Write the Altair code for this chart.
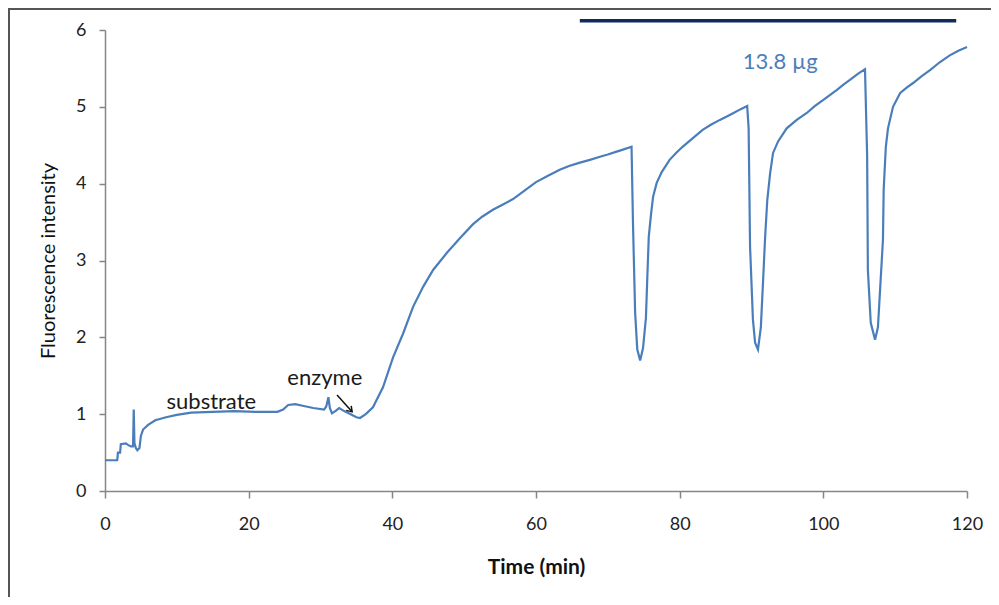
import altair as alt
import pandas as pd

# trace
time_min = [0, 1.7, 1.8, 2.1, 2.2, 2.9, 3.2, 3.6, 3.9, 4.0, 4.1, 4.3, 4.5, 4.8, 5.0, 5.3,
            6.0, 7.0, 8.5, 10.0, 12.0, 15.0, 18.0, 21.0, 24.0, 24.8, 25.5, 26.5, 27.5,
            29.0, 30.5, 30.8, 31.1, 31.3, 31.6, 32.2, 32.6, 33.3, 34.2, 35.0, 35.5, 36.3,
            37.3, 38.7, 40.1, 41.5, 42.9, 44.3, 45.7, 47.6, 49.4, 51.2, 52.5, 54.0, 55.4,
            56.8, 58.4, 60.0, 61.6, 63.3, 64.6, 66.0, 67.5, 68.9, 70.0, 71.0, 72.0, 73.3,
            73.5, 73.8, 74.1, 74.5, 74.9, 75.3, 75.5, 75.7, 76.0, 76.3, 76.8, 77.5, 78.6,
            79.5, 80.4, 81.8, 83.2, 84.4, 85.6, 86.5, 87.5, 88.5, 89.4, 89.6, 89.8, 90.2,
            90.5, 90.9, 91.3, 91.6, 91.9, 92.2, 92.6, 93.0, 93.7, 94.9, 96.3, 97.7, 98.8,
            100.0, 101.0, 101.9, 102.8, 103.7, 104.8, 105.8, 106.1, 106.2, 106.6, 107.2,
            107.6, 107.9, 108.3, 108.4, 108.7, 109.0, 109.7, 110.7, 111.6, 112.5, 113.7,
            114.9, 116.2, 117.6, 118.8, 120.0]
intensity = [0.40, 0.40, 0.50, 0.50, 0.61, 0.62, 0.60, 0.58, 0.58, 1.06, 0.62, 0.56, 0.53,
             0.56, 0.72, 0.80, 0.86, 0.92, 0.96, 0.99, 1.02, 1.03, 1.04, 1.03, 1.03, 1.06,
             1.12, 1.13, 1.11, 1.08, 1.06, 1.10, 1.22, 1.08, 1.01, 1.05, 1.08, 1.04, 1.00,
             0.96, 0.95, 1.00, 1.09, 1.35, 1.74, 2.05, 2.40, 2.66, 2.88, 3.10, 3.29, 3.47,
             3.57, 3.66, 3.73, 3.80, 3.91, 4.02, 4.10, 4.18, 4.23, 4.27, 4.31, 4.35, 4.38,
             4.41, 4.44, 4.48, 3.49, 2.32, 1.84, 1.70, 1.86, 2.25, 2.79, 3.31, 3.59, 3.83,
             4.01, 4.15, 4.31, 4.40, 4.48, 4.59, 4.70, 4.77, 4.83, 4.87, 4.92, 4.97, 5.01,
             4.72, 3.18, 2.23, 1.93, 1.84, 2.13, 2.71, 3.31, 3.79, 4.14, 4.40, 4.55, 4.72,
             4.83, 4.92, 5.01, 5.09, 5.16, 5.22, 5.29, 5.35, 5.43, 5.49, 4.35, 2.88, 2.19,
             1.97, 2.13, 2.62, 3.27, 3.92, 4.48, 4.72, 5.00, 5.18, 5.25, 5.31, 5.40, 5.48,
             5.58, 5.67, 5.73, 5.78]

x_ticks = [0, 20, 40, 60, 80, 100, 120]
y_ticks = [0, 1, 2, 3, 4, 5, 6]

# annotations
bar_start, bar_end, bar_level = [66.1], [118.5], [6.12]
note_text = ["13.8 µg", "substrate", "enzyme"]
note_t = [94.0, 14.8, 30.6]
note_v = [5.58, 1.16, 1.47]
note_color = ["#4a7ebb", "#1a1a1a", "#1a1a1a"]
arrow_t0, arrow_v0 = [32.3], [1.25]
arrow_t1, arrow_v1 = [34.4], [1.03]

FONT = "Lato"
LINE = "#4a7ebb"

df = pd.DataFrame({"t": time_min, "v": intensity})

xs = alt.Scale(domain=[0, 120], nice=False)
ys = alt.Scale(domain=[0, 6], nice=False)

line = alt.Chart(df).mark_line(color=LINE, strokeWidth=2.2).encode(
    x=alt.X("t:Q", scale=xs, title="Time (min)",
            axis=alt.Axis(values=x_ticks, format="d", tickSize=7, labelPadding=17,
                          labelFlush=False, titlePadding=23, titleFontWeight="bold",
                          titleFontSize=21)),
    y=alt.Y("v:Q", scale=ys, title="Fluorescence intensity",
            axis=alt.Axis(values=y_ticks, format="d", tickSize=6, labelPadding=13,
                          labelFlush=False, titlePadding=17, titleFontWeight="normal",
                          titleFontSize=20)),
)

bar_df = pd.DataFrame({"a": bar_start, "b": bar_end, "y": bar_level})
bar = alt.Chart(bar_df).mark_rule(color="#13285e", strokeWidth=3.5).encode(
    x="a:Q", x2="b:Q", y="y:Q")

notes_df = pd.DataFrame({"t": note_t, "v": note_v, "s": note_text, "c": note_color})
notes = alt.Chart(notes_df).mark_text(font=FONT, fontSize=22, align="center",
                                      baseline="middle").encode(
    x="t:Q", y="v:Q", text="s:N", color=alt.Color("c:N", scale=None))

arrow_df = pd.DataFrame({"t0": arrow_t0, "v0": arrow_v0, "t1": arrow_t1, "v1": arrow_v1})
shaft = alt.Chart(arrow_df).mark_rule(color="#111", strokeWidth=1.5).encode(
    x="t0:Q", y="v0:Q", x2="t1:Q", y2="v1:Q")
head = alt.Chart(arrow_df).mark_point(
    shape="M-0.8,-1.2L0,0L0.8,-1.2", filled=False, stroke="#111", strokeWidth=1.5,
    size=70, angle=318, opacity=1).encode(x="t1:Q", y="v1:Q")

frame = alt.Chart(pd.DataFrame({"k": [0]})).mark_rect(
    filled=False, stroke="#555555", strokeWidth=2).encode(
    x=alt.value(-96), x2=alt.value(3000), y=alt.value(-21), y2=alt.value(3000))

chart = alt.layer(frame, line, bar, notes, shaft, head).properties(
    width=862, height=461,
    autosize=alt.AutoSizeParams(type="none"),
    padding={"left": 97, "top": 22, "right": 24, "bottom": 106},
).configure_view(stroke=None).configure_axis(
    grid=False, domainColor="#868686", tickColor="#868686", domainWidth=1.5,
    tickWidth=1.5, labelFont=FONT, titleFont=FONT, labelFontSize=18,
    labelColor="#222222", titleColor="#111111",
)

chart.save("out.html", embed_options={"renderer": "svg", "actions": False})
